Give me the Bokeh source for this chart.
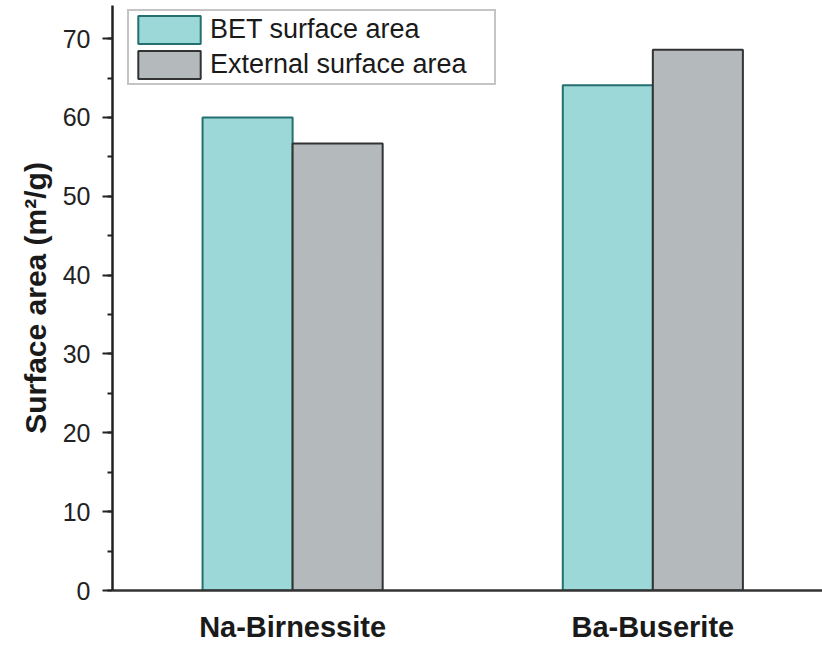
from bokeh.plotting import figure
from bokeh.models import ColumnDataSource, FixedTicker, SingleIntervalTicker, Range1d, Legend, LegendItem
from bokeh.transform import dodge
from bokeh.embed import file_html
from bokeh.resources import INLINE

categories = ["Na-Birnessite", "Ba-Buserite"]
bet_surface = [60.0, 64.1]
external_surface = [56.7, 68.6]

xs = [i + 1 for i in range(len(categories))]
src = ColumnDataSource(dict(x=xs, bet=bet_surface, ext=external_surface))

p = figure(width=822, height=645, output_backend="svg", toolbar_location=None,
           x_range=Range1d(0.5, 2.471), y_range=Range1d(0, 74.2),
           min_border_left=112, min_border_top=5, min_border_right=0, min_border_bottom=0)
p.outline_line_color = None
p.xgrid.visible = False
p.ygrid.visible = False
p.background_fill_color = "white"

FONT = "Liberation Sans"
bw = 0.25
r1 = p.vbar(x=dodge("x", -bw / 2), top="bet", width=bw, source=src,
            fill_color="#9cd8d8", line_color="#23706e", line_width=2)
r2 = p.vbar(x=dodge("x", bw / 2), top="ext", width=bw, source=src,
            fill_color="#b4b9bc", line_color="#333333", line_width=2)

# y axis
ya = p.yaxis[0]
ya.ticker = SingleIntervalTicker(interval=10, num_minor_ticks=2)
ya.axis_line_width = 2.5
ya.axis_line_color = "#222222"
ya.major_tick_line_width = 2
ya.major_tick_line_color = "#222222"
ya.minor_tick_line_width = 2
ya.minor_tick_line_color = "#222222"
ya.major_tick_out = 10
ya.major_tick_in = 0
ya.minor_tick_out = 5
ya.minor_tick_in = 0
ya.major_label_text_font = FONT
ya.major_label_text_font_size = "25px"
ya.major_label_text_color = "#222222"
ya.major_label_standoff = 12
ya.axis_label = "Surface area (m²/g)"
ya.axis_label_text_font = FONT
ya.axis_label_text_font_style = "bold"
ya.axis_label_text_font_size = "30px"
ya.axis_label_text_color = "#1a1a1a"
ya.axis_label_standoff = 8

# x axis
xa = p.xaxis[0]
xa.ticker = FixedTicker(ticks=xs)
xa.major_label_overrides = {x: c for x, c in zip(xs, categories)}
xa.axis_line_width = 2.5
xa.axis_line_color = "#333333"
xa.major_tick_line_color = None
xa.minor_tick_line_color = None
xa.major_label_text_font = FONT
xa.major_label_text_font_style = "bold"
xa.major_label_text_font_size = "29px"
xa.major_label_text_color = "#1a1a1a"
xa.major_label_standoff = 14

legend = Legend(items=[LegendItem(label="BET surface area", renderers=[r1]),
                       LegendItem(label="External surface area", renderers=[r2])],
                location=(15, 505))
legend.glyph_width = 78
legend.glyph_height = 35
legend.label_height = 35
legend.padding = 1
legend.spacing = -1
legend.label_standoff = 2
legend.label_width = 283
legend.label_text_font = FONT
legend.label_text_font_size = "27px"
legend.label_text_color = "#1a1a1a"
legend.border_line_color = "#8c8c8c"
legend.border_line_width = 2
legend.background_fill_color = "white"
legend.margin = 0
p.add_layout(legend)

open("out.html", "w").write(file_html(p, INLINE))
